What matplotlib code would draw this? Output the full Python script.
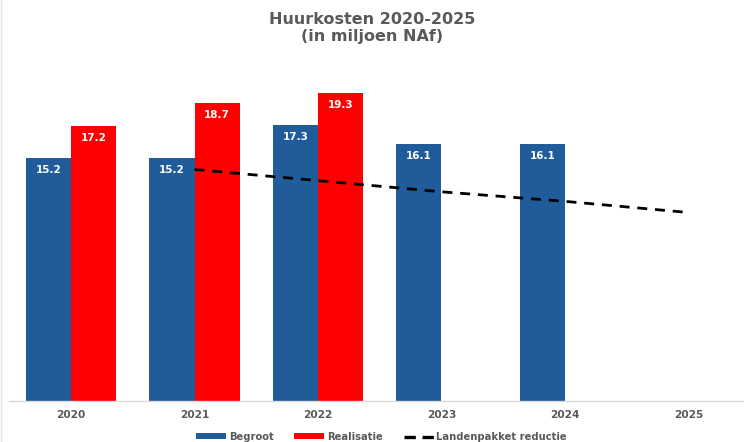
import matplotlib
matplotlib.use("Agg")
import matplotlib.pyplot as plt
import numpy as np
from matplotlib.lines import Line2D
from matplotlib.patches import Patch

years = ["2020", "2021", "2022", "2023", "2024", "2025"]
begroot = [15.2, 15.2, 17.3, 16.1, 16.1, np.nan]
realisatie = [17.2, 18.7, 19.3, np.nan, np.nan, np.nan]
reductie = [np.nan, 14.5, 13.8, 13.1, 12.5, 11.8]

title = "Huurkosten 2020-2025\n(in miljoen NAf)"
legend_labels = ["Begroot", "Realisatie", "Landenpakket reductie"]

BLUE = "#1F5C99"
RED = "#FF0000"
GRAY = "#595959"

plt.rcParams['font.family'] = ['DejaVu Sans']

W, H = 744, 442
fig = plt.figure(figsize=(W / 100, H / 100), dpi=100)
left_px, base_px, top_px = 9.3, 400.5, 50.0
ax = fig.add_axes([left_px / W, (H - base_px) / H, 1 - left_px / W, (base_px - top_px) / H])

x = np.arange(len(years))
bw = 0.365
ax.bar(x - bw / 2, begroot, width=bw, color=BLUE, zorder=2)
ax.bar(x + bw / 2, realisatie, width=bw, color=RED, zorder=2)
ax.plot(x, reductie, color="black", lw=2.0, linestyle=(0, (3.6, 2.8)), zorder=3)

for xi, v in zip(x - bw / 2, begroot):
    if not np.isnan(v):
        ax.text(xi, v - 0.75, f"{v:.1f}", ha="center", va="center", color="white",
                fontsize=7.5, fontweight="bold", zorder=4)
for xi, v in zip(x + bw / 2, realisatie):
    if not np.isnan(v):
        ax.text(xi, v - 0.75, f"{v:.1f}", ha="center", va="center", color="white",
                fontsize=7.5, fontweight="bold", zorder=4)

ax.set_xlim(-0.5, 5.45)
ax.set_ylim(0, 22.0)
ax.set_xticks(x)
ax.set_xticklabels(years, fontsize=7.6, fontweight="bold", color=GRAY)
ax.tick_params(axis="x", length=0, pad=7)
ax.set_yticks([])
for s in ["top", "right", "left"]:
    ax.spines[s].set_visible(False)
ax.spines["bottom"].set_color("#D9D9D9")
ax.spines["bottom"].set_linewidth(1.0)

fig.text(0.5, 1 - 28 / H, title, ha="center", va="center", fontsize=11.5,
         fontweight="bold", color=GRAY, linespacing=1.25)

handles = [Patch(facecolor=BLUE), Patch(facecolor=RED),
           Line2D([0], [0], color="black", lw=2.4, linestyle=(0, (3.4, 2.0)))]
fig.legend(handles, legend_labels, loc="center", bbox_to_anchor=(381.5 / W, 1 - 437 / H),
           ncol=3, frameon=False, prop={"weight": "bold", "size": 7.2},
           labelcolor=GRAY, handlelength=3.0, handleheight=0.55, handletextpad=0.25,
           columnspacing=2.1, borderpad=0)

fig.add_artist(Line2D([0.5 / W, 0.5 / W], [0, 1], color="#E6E6E6", lw=1, transform=fig.transFigure))

fig.savefig("out.png", dpi=100)
